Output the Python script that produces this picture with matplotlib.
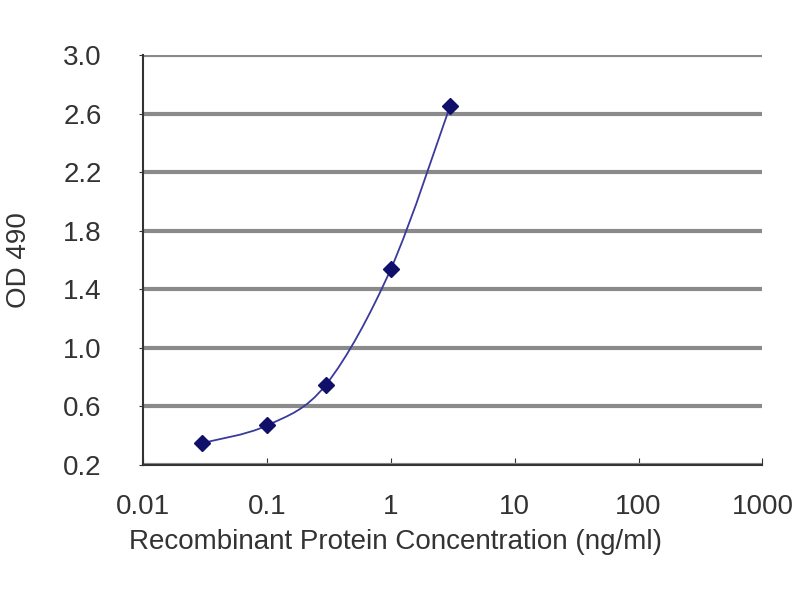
import numpy as np
import matplotlib.pyplot as plt
from matplotlib.path import Path
from matplotlib.patches import PathPatch

conc = [0.03, 0.1, 0.3, 1, 3]
od = [0.35, 0.47, 0.75, 1.54, 2.65]
xticks = [0.01, 0.1, 1, 10, 100, 1000]
xlabels = ["0.01", "0.1", "1", "10", "100", "1000"]
yticks = [0.2, 0.6, 1.0, 1.4, 1.8, 2.2, 2.6, 3.0]

plt.rcParams["font.family"] = ["Liberation Sans", "DejaVu Sans"]

fig = plt.figure(figsize=(8, 6), dpi=100)
ax = fig.add_axes([0.179, 0.225, 0.774, 0.683])
ax.set_xscale("log")
ax.set_xlim(0.01, 1000)
ax.set_ylim(0.2, 3.0)

# smoothed line like the spreadsheet's: Catmull-Rom through the points, in log-x space
lx = np.log10(conc)
y = np.array(od)
verts = [(conc[0], od[0])]
codes = [Path.MOVETO]
for i in range(len(lx) - 1):
    p0 = (lx[max(i - 1, 0)], y[max(i - 1, 0)])
    p1 = (lx[i], y[i])
    p2 = (lx[i + 1], y[i + 1])
    p3 = (lx[min(i + 2, len(lx) - 1)], y[min(i + 2, len(lx) - 1)])
    c1 = (p1[0] + (p2[0] - p0[0]) / 6, p1[1] + (p2[1] - p0[1]) / 6)
    c2 = (p2[0] - (p3[0] - p1[0]) / 6, p2[1] - (p3[1] - p1[1]) / 6)
    for c in (c1, c2, p2):
        verts.append((10 ** c[0], c[1]))
        codes.append(Path.CURVE4)
ax.add_patch(PathPatch(Path(verts, codes), fill=False, edgecolor="#3a3a9c", lw=1.3, zorder=3))
ax.plot(conc, od, linestyle="none", marker="D", markersize=8, color="#10106a", zorder=4)

ax.set_yticks(yticks)
ax.set_yticklabels([f"{v:.1f}" for v in yticks])
ax.set_xticks(xticks)
ax.set_xticklabels(xlabels)
ax.minorticks_off()
ax.yaxis.grid(True, color="#8a8a8a", lw=3)
ax.set_axisbelow(True)
for s in ("top", "right"):
    ax.spines[s].set_visible(False)
for s in ("left", "bottom"):
    ax.spines[s].set_color("#333333")
    ax.spines[s].set_linewidth(1.5)
ax.tick_params(axis="x", direction="in", length=5, labelsize=20, colors="#333333", pad=21)
ax.tick_params(axis="y", direction="out", length=3, labelsize=20, colors="#333333", pad=27)
ax.set_xlabel("Recombinant Protein Concentration (ng/ml)", fontsize=20, color="#333333")
ax.xaxis.set_label_coords(0.407, -0.155)
ax.set_ylabel("OD 490", fontsize=20, color="#333333", labelpad=22)

fig.savefig("out.png")
